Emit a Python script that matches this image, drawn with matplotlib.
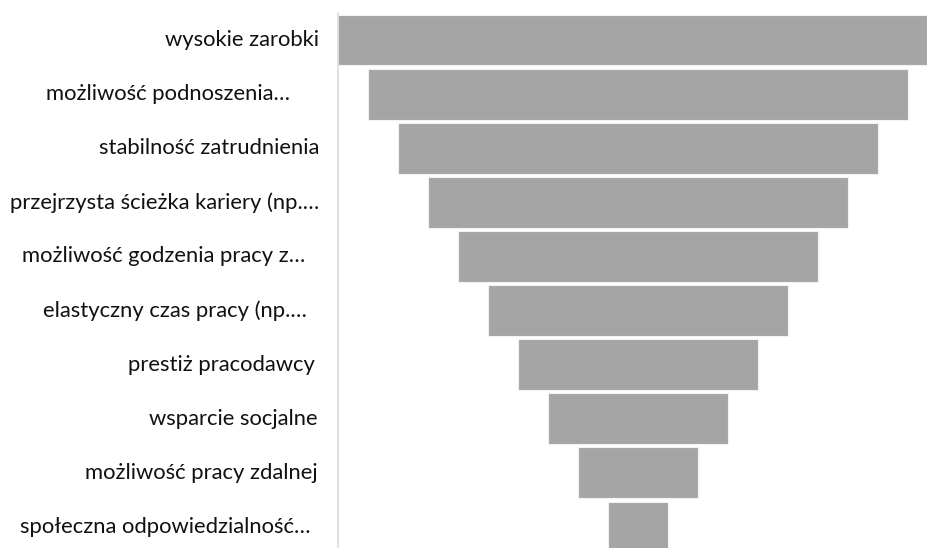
import matplotlib
matplotlib.use("Agg")
import matplotlib.pyplot as plt
import matplotlib.transforms as mtransforms

categories = [
    "wysokie zarobki",
    "możliwość podnoszenia…",
    "stabilność zatrudnienia",
    "przejrzysta ścieżka kariery (np.…",
    "możliwość godzenia pracy z…",
    "elastyczny czas pracy (np.…",
    "prestiż pracodawcy",
    "wsparcie socjalne",
    "możliwość pracy zdalnej",
    "społeczna odpowiedzialność…",
]
values = [100, 90, 80, 70, 60, 50, 40, 30, 20, 10]

# extra left shift (pixels) of each label's right edge, mimicking the truncated labels
label_shift_px = [0, 29, 0, 0, 14, 12, 4, 1, 1, 9]

W, H, DPI = 927, 548, 100
fig = plt.figure(figsize=(W / DPI, H / DPI), dpi=DPI)
fig.patch.set_facecolor("white")

left = 338 / W
top_px = 13
pitch = 54.1
n = len(categories)
ax_h_px = pitch * n
ax_w_px = 600
ax = fig.add_axes([left, 1 - (top_px + ax_h_px) / H, ax_w_px / W, ax_h_px / H])

vmax = max(values)
ypos = list(range(n))
lefts = [-v / 2 for v in values]
ax.barh(ypos, values, left=lefts, height=0.94, color="#A5A5A5",
        edgecolor="#F2F2F2", linewidth=0.8)

ax.set_xlim(-vmax / 2, vmax / 2)
ax.set_ylim(n - 0.5, -0.5)

for s in ["top", "right", "bottom"]:
    ax.spines[s].set_visible(False)
ax.spines["left"].set_color("#D9D9D9")
ax.spines["left"].set_linewidth(1.1)
ax.set_xticks([])
ax.set_yticks([])

for i, (lab, sh) in enumerate(zip(categories, label_shift_px)):
    base = mtransforms.blended_transform_factory(ax.transAxes, ax.transData)
    tr = mtransforms.offset_copy(base, fig=fig, x=-(19 + sh), y=0, units="dots")
    ax.text(0, i, lab, transform=tr, ha="right", va="center",
            fontsize=15.8, family=["Lato", "DejaVu Sans"], color="#111111")

fig.savefig("out.png", dpi=DPI)
